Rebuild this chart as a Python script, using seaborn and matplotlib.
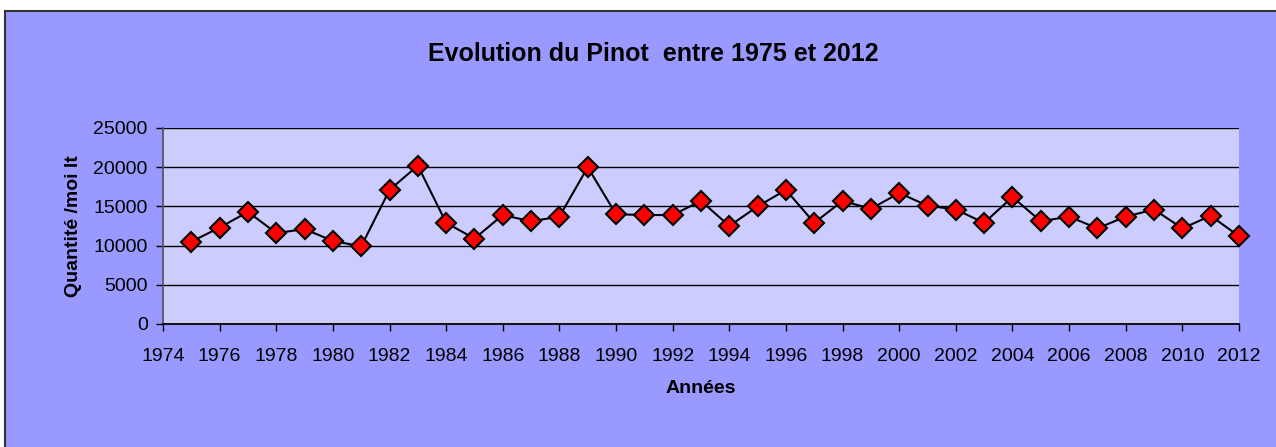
import matplotlib
matplotlib.use("Agg")
import matplotlib.pyplot as plt
from matplotlib.patches import Rectangle
import seaborn as sns
import pandas as pd

# data
years = list(range(1975, 2013))
quantities = [10500, 12300, 14300, 11600, 12100, 10600, 9900, 17100, 20200,
              12900, 10900, 13900, 13100, 13700, 20000, 14000, 13900, 13900,
              15700, 12500, 15000, 17100, 12900, 15700, 14700, 16700, 15100,
              14600, 12900, 16200, 13100, 13700, 12200, 13700, 14600, 12200,
              13800, 11200]
x_ticks = list(range(1974, 2013, 2))
y_ticks = [0, 5000, 10000, 15000, 20000, 25000]

df = pd.DataFrame({"Années": years, "Quantité": quantities})

sns.set_theme(style="white")
plt.rcParams['font.family'] = ['Liberation Sans', 'DejaVu Sans']
plt.rcParams['text.color'] = 'black'
plt.rcParams['axes.labelcolor'] = 'black'

fig = plt.figure(figsize=(12.76, 4.47), dpi=100)
fig.patch.set_facecolor("white")
# outer chart frame (cut off at right and bottom)
fig.patches.append(Rectangle((5 / 1276, -0.1), 2, (436 / 447) + 0.1,
                             transform=fig.transFigure, facecolor="#9999FF",
                             edgecolor="#333333", linewidth=1.5, zorder=-5))

ax = fig.add_axes([163 / 1276, 1 - 324 / 447, (1239 - 163) / 1276, (324 - 128) / 447])
ax.set_facecolor("#CCCCFF")

sns.lineplot(data=df, x="Années", y="Quantité", ax=ax, color="black",
             linewidth=1.5, marker="D", markersize=10.5, markerfacecolor="#FF0000",
             markeredgecolor="black", markeredgewidth=1.5, zorder=3, clip_on=False)

ax.set_xlim(1974, 2012)
ax.set_ylim(0, 25000)
ax.set_xticks(x_ticks)
ax.set_yticks(y_ticks)
ax.yaxis.grid(True, color="black", linewidth=1)
ax.xaxis.grid(False)
ax.set_axisbelow(True)
for s in ["top", "right"]:
    ax.spines[s].set_visible(False)
ax.spines["left"].set_color("#555555")
ax.spines["bottom"].set_color("black")
ax.tick_params(axis="both", which="major", direction="out", length=5, width=1,
               colors="black", labelsize=14, bottom=True, left=True)
ax.tick_params(axis="x", pad=12)
ax.tick_params(axis="y", pad=6)

ax.set_xlabel("Années", fontsize=14, fontweight="bold", labelpad=11)
ax.set_ylabel("Quantité /moi lt", fontsize=14, fontweight="bold", labelpad=8)

fig.text(653 / 1276, 1 - 54 / 447, "Evolution du Pinot  entre 1975 et 2012",
         ha="center", va="center", fontsize=18, fontweight="bold", color="black")

fig.savefig("out.png", dpi=100, facecolor=fig.get_facecolor())
